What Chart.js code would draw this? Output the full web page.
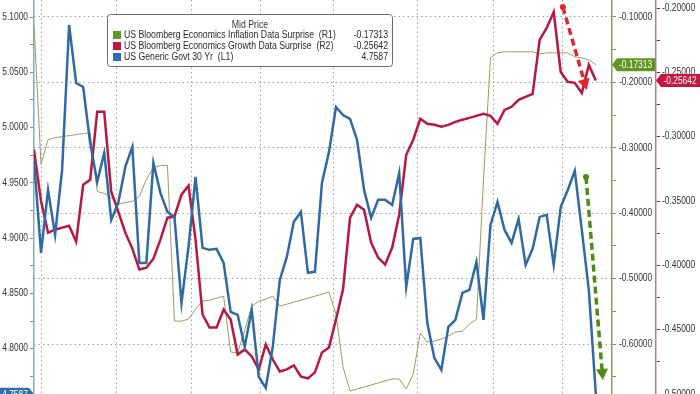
<!DOCTYPE html>
<html>
<head>
<meta charset="utf-8">
<script src="https://cdn.jsdelivr.net/npm/chart.js@4.4.1/dist/chart.umd.min.js"></script>
<style>
  html, body { margin: 0; padding: 0; background: #fff; }
  #wrap { position: relative; width: 700px; height: 394px; }
</style>
</head>
<body>
<div id="wrap"><canvas id="myChart"></canvas></div>
<script>
// trading days, index only (no dates shown on the chart)
const days = Array.from({ length: 81 }, (_, i) => i);

// US Generic Govt 30 Yr (L1)
const govt30 = [
  4.9707, 4.8866, 4.9436, 4.9029, 4.9617, 5.0928, 5.0403, 5.0367, 4.9861, 4.9508,
  4.9771, 4.9165, 4.9319, 4.9644, 4.9825, 4.8776, 4.8776, 4.9680, 4.9409, 4.9237,
  4.9192, 4.8415, 4.8921, 4.9554, 4.8912, 4.8894, 4.8903, 4.8776, 4.8333, 4.8306,
  4.8017, 4.8351, 4.7746, 4.7646, 4.8017, 4.8622, 4.8830, 4.9147, 4.9237, 4.8686,
  4.8695, 4.9499, 4.9780, 5.0186, 5.0114, 5.0078, 4.9888, 4.9436, 4.9183, 4.9346,
  4.9346, 4.9300, 4.9590, 4.8559, 4.8993, 4.9002, 4.8234, 4.7917, 4.7809, 4.8198,
  4.8261, 4.8505, 4.8532, 4.8785, 4.8261, 4.9120, 4.9328, 4.9074, 4.8957, 4.9174,
  4.8758, 4.8903, 4.9192, 4.9210, 4.8758, 4.9282, 4.9436, 4.9608, 4.9074, 4.8532,
  4.7587
];

// US Bloomberg Economics Growth Data Surprise (R2)
const growthSurprise = [
  -0.3102, -0.3500, -0.3746, -0.3723, -0.3707, -0.3692, -0.3816, -0.3374, -0.3335, -0.2807,
  -0.2807, -0.3428, -0.3583, -0.3746, -0.3870, -0.4033, -0.4018, -0.3948, -0.3800, -0.3630,
  -0.3622, -0.3451, -0.3381, -0.3800, -0.4382, -0.4483, -0.4483, -0.4344, -0.4421, -0.4693,
  -0.4654, -0.4708, -0.4809, -0.4615, -0.4732, -0.4825, -0.4809, -0.4778, -0.4863, -0.4879,
  -0.4832, -0.4677, -0.4638, -0.4421, -0.4188, -0.3630, -0.3529, -0.3568, -0.3824, -0.3940,
  -0.3994, -0.3862, -0.3606, -0.3141, -0.3024, -0.2861, -0.2900, -0.2908, -0.2923, -0.2908,
  -0.2885, -0.2869, -0.2854, -0.2838, -0.2823, -0.2838, -0.2900, -0.2792, -0.2768, -0.2714,
  -0.2691, -0.2667, -0.2248, -0.2155, -0.2031, -0.2497, -0.2574, -0.2582, -0.2660, -0.2442,
  -0.25642
];

// US Bloomberg Economics Inflation Data Surprise (R1)
const inflationSurprise = [
  -0.1122, -0.3256, -0.2875, -0.2844, -0.2829, -0.2814, -0.2798, -0.2783, -0.2768, -0.3667,
  -0.3697, -0.3758, -0.3865, -0.3835, -0.3819, -0.3743, -0.3484, -0.3301, -0.3271, -0.3271,
  -0.5648, -0.5648, -0.5618, -0.5465, -0.5343, -0.5328, -0.5298, -0.5267, -0.6120, -0.6136,
  -0.5785, -0.5420, -0.5343, -0.5313, -0.5267, -0.5420, -0.5389, -0.5359, -0.5328, -0.5298,
  -0.5267, -0.5237, -0.5206, -0.5542, -0.6349, -0.6715, -0.6684, -0.6654, -0.6624, -0.6593,
  -0.6563, -0.6532, -0.6532, -0.6684, -0.6456, -0.5831, -0.5968, -0.5953, -0.5923, -0.5877,
  -0.5816, -0.5801, -0.5694, -0.5618, -0.3484, -0.1625, -0.1549, -0.1533, -0.1533, -0.1533,
  -0.1533, -0.1533, -0.1564, -0.1549, -0.1549, -0.1549, -0.1549, -0.1610, -0.1625, -0.1655,
  -0.17313
];

// axis ticks
const leftMajor = [4.80, 4.85, 4.90, 4.95, 5.00, 5.05, 5.10];
const leftMinor = [4.775, 4.825, 4.875, 4.925, 4.975, 5.025, 5.075];
const r1Major = [-0.6, -0.5, -0.4, -0.3, -0.2, -0.1];
const r1Minor = [-0.65, -0.55, -0.45, -0.35, -0.25, -0.15];
const r2Major = [-0.5, -0.45, -0.4, -0.35, -0.3, -0.25, -0.2];
const r2Minor = [-0.475, -0.425, -0.375, -0.325, -0.275, -0.225];
const dateGrid = [1.0, 11.7, 22.4, 32.2, 42.7, 54.6, 65.4, 75.2];

// legend rows: name, last value
const legendNames = [
  'US Bloomberg Economics Inflation Data Surprise  (R1)',
  'US Bloomberg Economics Growth Data Surprise  (R2)',
  'US Generic Govt 30 Yr  (L1)'
];
const legendValues = ['-0.17313', '-0.25642', '4.7587'];

// the two hand-drawn arrows: [x0, y0, x1, y1]
const redArrow = [75.3, -0.1992, 78.7, -0.2637];
const greenArrow = [78.6, -0.3446, 81.0, -0.6548];

const BLUE = '#2f6aa5';
const RED = '#b8173f';
const OLIVE = '#969f5c';
const FONT = "'Liberation Sans', Arial, sans-serif";
const SQUEEZE = 0.84; // the terminal font is narrower than Liberation Sans

const isIn = (arr, v) => arr.some((m) => Math.abs(m - v) < 1e-9);
const setTicks = (major, minor) => (s) => {
  s.ticks = major.concat(minor).sort((a, b) => a - b).map((v) => ({ value: v }));
};
const fitWidth = (w) => (s) => {
  s.width = w;
  s.paddingTop = 0;
  s.paddingBottom = 0;
};

// condensed text
const text = (ctx, str, x, y, align, color, squeeze) => {
  ctx.save();
  ctx.translate(x, y);
  ctx.scale(squeeze || SQUEEZE, 1);
  ctx.font = '10px ' + FONT;
  ctx.fillStyle = color || '#333';
  ctx.textAlign = align;
  ctx.textBaseline = 'middle';
  ctx.fillText(str, 0, 0);
  ctx.restore();
};

// tag with a point towards its axis
const drawTag = (ctx, x0, x1, yc, tip, bg, str) => {
  const h = 13;
  ctx.save();
  ctx.fillStyle = bg;
  ctx.beginPath();
  if (tip < x0) {
    ctx.moveTo(tip, yc);
    ctx.lineTo(x0 + 3, yc - h / 2);
    ctx.lineTo(x1, yc - h / 2);
    ctx.lineTo(x1, yc + h / 2);
    ctx.lineTo(x0 + 3, yc + h / 2);
  } else {
    ctx.moveTo(tip, yc);
    ctx.lineTo(x1 - 3, yc - h / 2);
    ctx.lineTo(x0, yc - h / 2);
    ctx.lineTo(x0, yc + h / 2);
    ctx.lineTo(x1 - 3, yc + h / 2);
  }
  ctx.closePath();
  ctx.fill();
  ctx.restore();
  text(ctx, str, (x0 + x1) / 2 + (tip < x0 ? 1 : -1), yc + 0.5, 'center', '#fff');
};

const drawArrow = (ctx, x0, y0, x1, y1, color) => {
  const ang = Math.atan2(y1 - y0, x1 - x0);
  const head = 11;
  const bx = x1 - Math.cos(ang) * head;
  const by = y1 - Math.sin(ang) * head;
  ctx.save();
  ctx.strokeStyle = color;
  ctx.fillStyle = color;
  ctx.lineWidth = 3.5;
  ctx.setLineDash([7, 4]);
  ctx.beginPath();
  ctx.moveTo(x0, y0);
  ctx.lineTo(bx, by);
  ctx.stroke();
  ctx.setLineDash([]);
  ctx.beginPath();
  ctx.arc(x0, y0, 3, 0, Math.PI * 2);
  ctx.fill();
  ctx.beginPath();
  ctx.moveTo(x1, y1);
  ctx.lineTo(bx + Math.sin(ang) * 6, by - Math.cos(ang) * 6);
  ctx.lineTo(bx - Math.sin(ang) * 6, by + Math.cos(ang) * 6);
  ctx.closePath();
  ctx.fill();
  ctx.restore();
};

const overlay = {
  id: 'overlay',
  afterDraw(chart) {
    const { ctx, scales, chartArea } = chart;
    const { x, y, y1, y2 } = scales;

    // axis labels
    leftMajor.forEach((v) => text(ctx, v.toFixed(4), chartArea.left - 6, y.getPixelForValue(v), 'right'));
    r1Major.forEach((v) => text(ctx, v.toFixed(5), y1.left + 7, y1.getPixelForValue(v), 'left'));
    r2Major.forEach((v) => text(ctx, v.toFixed(5), y2.left + 6, y2.getPixelForValue(v), 'left'));

    drawArrow(ctx, x.getPixelForValue(redArrow[0]), y2.getPixelForValue(redArrow[1]),
      x.getPixelForValue(redArrow[2]), y2.getPixelForValue(redArrow[3]), '#e0262c');
    drawArrow(ctx, x.getPixelForValue(greenArrow[0]), y1.getPixelForValue(greenArrow[1]),
      x.getPixelForValue(greenArrow[2]), y1.getPixelForValue(greenArrow[3]), '#4e8a14');

    // legend box
    ctx.save();
    ctx.fillStyle = '#fff';
    ctx.strokeStyle = '#6b6b6b';
    ctx.lineWidth = 1;
    ctx.beginPath();
    ctx.roundRect(107.5, 14.5, 285, 52, 3);
    ctx.fill();
    ctx.stroke();
    const swatch = ['#5f9a22', '#c0153f', '#2f6eaa'];
    legendNames.forEach((name, i) => {
      const ry = 35 + i * 11;
      ctx.fillStyle = swatch[i];
      ctx.fillRect(113, ry - 4, 8, 8);
    });
    ctx.restore();
    text(ctx, 'Mid Price', 250, 25, 'center', '#333', 0.87);
    legendNames.forEach((name, i) => {
      const ry = 35 + i * 11;
      text(ctx, name, 124, ry, 'left', '#2a2a2a', 0.87);
      text(ctx, legendValues[i], 388, ry, 'right', '#2a2a2a', 0.87);
    });

    // last value tags
    drawTag(ctx, 614, 655, y1.getPixelForValue(inflationSurprise[inflationSurprise.length - 1]), 612, '#5e9620', legendValues[0]);
    drawTag(ctx, 658, 700, y2.getPixelForValue(growthSurprise[growthSurprise.length - 1]), 656, '#c8163f', legendValues[1]);
    drawTag(ctx, 0, 32, y.getPixelForValue(govt30[govt30.length - 1]), 34, '#2e6eab', legendValues[2]);
  }
};

new Chart(document.getElementById('myChart'), {
  type: 'line',
  data: {
    labels: days,
    datasets: [
      { label: 'US Generic Govt 30 Yr', data: govt30, yAxisID: 'y', borderColor: BLUE, borderWidth: 2.5 },
      { label: 'US Bloomberg Economics Growth Data Surprise', data: growthSurprise, yAxisID: 'y2', borderColor: RED, borderWidth: 2.5 },
      { label: 'US Bloomberg Economics Inflation Data Surprise', data: inflationSurprise, yAxisID: 'y1', borderColor: OLIVE, borderWidth: 1 }
    ]
  },
  options: {
    responsive: true,
    maintainAspectRatio: false,
    animation: false,
    layout: { padding: 0 },
    elements: { point: { radius: 0 }, line: { tension: 0 } },
    plugins: { legend: { display: false }, tooltip: { enabled: false } },
    scales: {
      x: {
        type: 'linear',
        min: 0,
        max: 82.3,
        afterBuildTicks: (s) => { s.ticks = dateGrid.map((v) => ({ value: v })); },
        afterFit: (s) => { s.height = 0; s.paddingLeft = 0; s.paddingRight = 0; },
        ticks: { display: false },
        grid: { color: '#a0a0a0', lineWidth: 1, drawTicks: false },
        border: { display: false, dash: [1.5, 3] }
      },
      y: {
        position: 'left',
        min: 4.759,
        max: 5.1154,
        afterBuildTicks: setTicks(leftMajor, leftMinor),
        afterFit: fitWidth(34),
        ticks: { display: false },
        grid: { drawOnChartArea: false, tickLength: 4, tickColor: '#6d93bb' },
        border: { color: '#86a8c9', width: 1.5 }
      },
      y1: {
        position: 'right',
        weight: 1,
        min: -0.6762,
        max: -0.0741,
        afterBuildTicks: setTicks(r1Major, r1Minor),
        afterFit: fitWidth(44),
        ticks: { display: false },
        grid: {
          lineWidth: 1,
          tickLength: 4,
          color: (c) => (c.tick && isIn(r1Major, c.tick.value) ? '#a0a0a0' : 'rgba(0,0,0,0)'),
          tickColor: '#7f9150'
        },
        border: { color: '#8d9c5e', width: 1.5, dash: [1.5, 3] }
      },
      y2: {
        position: 'right',
        weight: 2,
        min: -0.5,
        max: -0.19378,
        afterBuildTicks: setTicks(r2Major, r2Minor),
        afterFit: fitWidth(44),
        ticks: { display: false },
        grid: { drawOnChartArea: false, tickLength: 4, tickColor: '#8e2848' },
        border: { color: '#ad8193', width: 1.5 }
      }
    }
  },
  plugins: [overlay]
});
</script>
</body>
</html>
